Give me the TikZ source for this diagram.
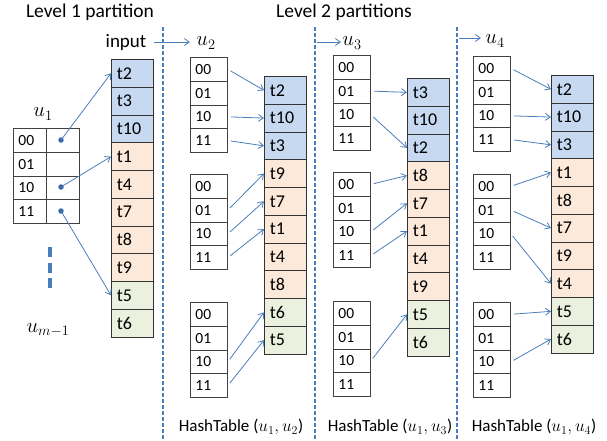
\documentclass[tikz,border=0pt]{standalone}
\usepackage{fontspec}
\setmainfont{Carlito}
\usetikzlibrary{arrows.meta}
\definecolor{arr}{HTML}{4A7EBB}
\definecolor{dotc}{HTML}{3A6AA6}
\definecolor{cblue}{HTML}{C6D9F1}
\definecolor{corange}{HTML}{FDE9D9}
\definecolor{cgreen}{HTML}{EBF1DE}
\tikzset{
 cell/.style={draw=black!75, line width=0.9pt, anchor=north west, minimum height=23.75pt, minimum width=37pt, text width=27pt, inner xsep=5pt, inner ysep=0pt, align=left, font=\fontsize{15.5}{16}\selectfont},
 ucell/.style={cell, minimum width=33pt, text width=23pt},
 tcell/.style={draw=black!80, line width=0.9pt, anchor=north west, minimum height=27.75pt, minimum width=42pt, text width=31pt, inner xsep=5.5pt, inner ysep=0pt, align=left, font=\fontsize{18}{19}\selectfont},
 link/.style={draw=arr, line width=0.8pt, -{Straight Barb[length=5pt,width=7pt]}},
 sep/.style={draw=arr, line width=1.1pt, dash pattern=on 4pt off 2pt},
 lbl/.style={inner sep=0pt, font=\fontsize{19.5}{21}\selectfont},
 mlbl/.style={inner sep=0pt, font=\fontsize{21}{23}\selectfont},
 hlbl/.style={inner sep=0pt, font=\fontsize{17}{19}\selectfont},
 dot/.style={circle, fill=dotc, inner sep=0pt, minimum size=5.5pt},
}
\newcommand\htab[3]{%
 \foreach \k/\s in {0/00,1/01,2/10,3/11}{
  \node[cell] (#1\k) at (#2, #3+\k*23.75) {\s};
 }}
\newcommand\tcol[4]{%
 \foreach \lab/\col [count=\i from 0] in {#4}{
  \node[tcell, fill=\col] (#1\lab) at (#2, #3+\i*27.75) {\lab};
 }}
\begin{document}
\begin{tikzpicture}[x=1pt,y=-1pt]
\useasboundingbox (0,0) rectangle (607,440);
% titles
\node[lbl] (lev1) at (90,12) {Level 1 partition};
\node[lbl] (lev2) at (344,12) {Level 2 partitions};
\node[lbl, font=\fontsize{19}{21}\selectfont] (input) at (126,42) {input};
% separators
\coordinate (s1t) at (163,27); \coordinate (s1b) at (163,440);
\coordinate (s2t) at (315,27); \coordinate (s2b) at (315,440);
\coordinate (s3t) at (457,27); \coordinate (s3b) at (457,440);
\draw[sep] (s1t) -- (s1b);
\draw[sep] (s2t) -- (s2b);
\draw[sep] (s3t) -- (s3b);
% level 1
\node[mlbl] (u1) at (43,114) {$u_1$};
\foreach \k/\s in {0/00,1/01,2/10,3/11}{
 \node[ucell] (ua\k) at (13, 128+\k*23.75) {\s};
 \node[ucell] (ub\k) at (46, 128+\k*23.75) {};
}
\node[dot] (d0) at (61,140) {};
\node[dot] (d2) at (61,187) {};
\node[dot] (d3) at (61,211) {};
\coordinate (v1) at (50,247); \coordinate (v2) at (50,288);
\draw[arr, line width=4pt, dash pattern=on 10pt off 5.5pt] (v1) -- (v2);
\node[mlbl] (um) at (48,330) {$u_{m-1}$};
\tcol{in}{111}{59}{t2/cblue,t3/cblue,t10/cblue,t1/corange,t4/corange,t7/corange,t8/corange,t9/corange,t5/cgreen,t6/cgreen}
\draw[link] (d0.center) -- (int2.west);
\draw[link] (d2.center) -- (int1.west);
\draw[link] (d3.center) -- (int5.west);
% u2
\node[mlbl] (u2) at (206,43) {$u_2$};
\coordinate (a2) at (190,42);
\draw[link] (input.east) ++(7,0) -- (a2);
\htab{ba}{190}{57}
\htab{bb}{190}{174}
\htab{bc}{190}{302}
\tcol{b}{264}{76}{t2/cblue,t10/cblue,t3/cblue,t9/corange,t7/corange,t1/corange,t4/corange,t8/corange,t6/cgreen,t5/cgreen}
\begin{scope}[shorten <=3pt]
\draw[link] (ba0.east) -- (bt2.west);
\draw[link] (ba2.east) -- (bt10.west);
\draw[link] (ba3.east) -- (bt3.west);
\draw[link] (bb1.east) -- (bt9.west);
\draw[link] (bb2.east) -- (bt7.west);
\draw[link] (bb3.east) -- (bt1.west);
\draw[link] (bc2.east) -- (bt6.west);
\draw[link] (bc3.east) -- (bt5.west);
\end{scope}
\node[hlbl] (h2) at (241,427) {HashTable ($u_1,u_2$)};
% u3
\node[mlbl] (u3) at (352,43) {$u_3$};
\coordinate (a3s) at (317,42); \coordinate (a3) at (341,42);
\draw[link] (a3s) -- (a3);
\htab{ca}{333}{55}
\htab{cb}{333}{172}
\htab{cc}{333}{301}
\tcol{c}{407}{78}{t3/cblue,t10/cblue,t2/cblue,t8/corange,t7/corange,t1/corange,t4/corange,t9/corange,t5/cgreen,t6/cgreen}
\begin{scope}[shorten <=3pt]
\draw[link] (ca1.east) -- (ct3.west);
\draw[link] (ca2.east) -- (ct2.west);
\draw[link] (cb0.east) -- (ct8.west);
\draw[link] (cb2.east) -- (ct7.west);
\draw[link] (cb3.east) -- (ct1.west);
\draw[link] (cc2.east) -- (ct5.west);
\end{scope}
\node[hlbl] (h3) at (390,427) {HashTable ($u_1,u_3$)};
% u4
\node[mlbl] (u4) at (495,41) {$u_4$};
\coordinate (a4s) at (459,38); \coordinate (a4) at (481,38);
\draw[link] (a4s) -- (a4);
\htab{da}{473}{56}
\htab{db}{473}{174}
\htab{dc}{473}{302}
\tcol{d}{551}{75}{t2/cblue,t10/cblue,t3/cblue,t1/corange,t8/corange,t7/corange,t9/corange,t4/corange,t5/cgreen,t6/cgreen}
\begin{scope}[shorten <=3pt]
\draw[link] (da0.east) -- (dt2.west);
\draw[link] (da2.east) -- (dt10.west);
\draw[link] (da3.east) -- (dt3.west);
\draw[link] (db0.east) -- (dt1.west);
\draw[link] (db1.east) -- (dt7.west);
\draw[link] (db2.east) -- (dt4.west);
\draw[link] (dc0.east) -- (dt5.west);
\draw[link] (dc2.east) -- (dt6.west);
\end{scope}
\node[hlbl] (h4) at (534,427) {HashTable ($u_1,u_4$)};
\end{tikzpicture}
\end{document}
